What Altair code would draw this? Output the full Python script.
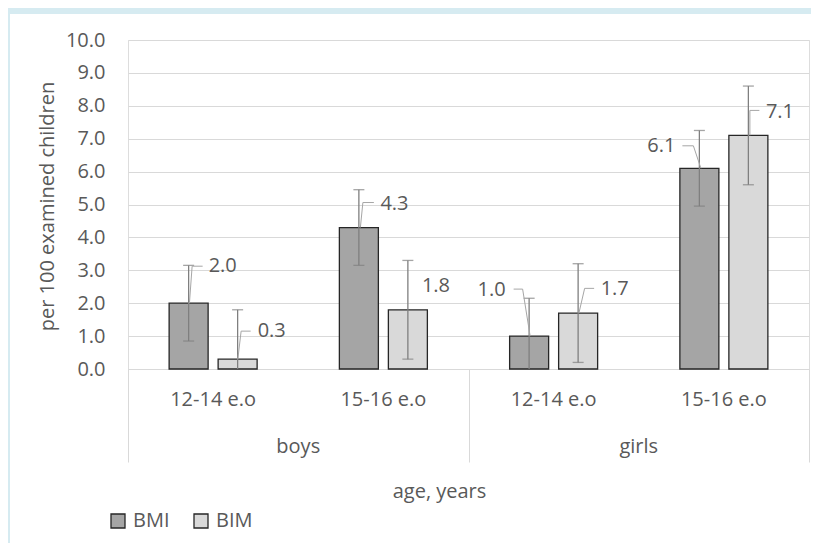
import altair as alt
import pandas as pd

# ---------------- data ----------------
genders = ["boys", "boys", "girls", "girls"]
ages = ["12-14 e.o", "15-16 e.o", "12-14 e.o", "15-16 e.o"]
series_names = ["BMI", "BIM"]
bmi_values = [2.0, 4.3, 1.0, 6.1]
bim_values = [0.3, 1.8, 1.7, 7.1]
bmi_errors = [1.15, 1.15, 1.15, 1.15]
bim_errors = [1.5, 1.5, 1.5, 1.5]
y_ticks = [0, 1, 2, 3, 4, 5, 6, 7, 8, 9, 10]
series_colors = ["#a5a5a5", "#d9d9d9"]

# ---------------- layout (pixels) ----------------
W, H = 681, 329
PX_X = W / len(ages)      # pixels per category slot
PX_Y = H / 10             # pixels per y unit
HALF_STEP = 24.5 / PX_X   # bar centre offset from slot centre
SIDE = {"BMI": -1, "BIM": 1}
TXT = "#595959"
GRID = "#d9d9d9"
FONT = "Open Sans"
FS = 20

# data label placement: text offset (px) from bar-top centre, leader path (px)
label_layout = {
    ("BMI", 0): dict(tx=20, ty=-37, align="left", path=[(0.8, 0), (3.5, -37), (14, -37)]),
    ("BMI", 1): dict(tx=21.5, ty=-24, align="left", path=[(1.5, 0), (4, -25), (15, -25)]),
    ("BMI", 2): dict(tx=-23.5, ty=-46, align="right", path=[(1, 0), (-6.5, -47), (-15.5, -47)]),
    ("BMI", 3): dict(tx=-24, ty=-22, align="right", path=[(1.5, 0), (-6, -22.5), (-17, -22.5)]),
    ("BIM", 0): dict(tx=20, ty=-28, align="left", path=[(0.2, 0), (3.5, -28), (13, -28)]),
    ("BIM", 1): dict(tx=14, ty=-24, align="left", path=[]),
    ("BIM", 2): dict(tx=22.5, ty=-24, align="left", path=[(0.8, 0), (6.5, -24.7), (16, -24.7)]),
    ("BIM", 3): dict(tx=17.5, ty=-23.4, align="left", path=[(1.5, 0), (1.5, -25), (11, -25)]),
}

rows, caps, labels, leaders = [], [], [], []
for s, vals, errs in (("BMI", bmi_values, bmi_errors), ("BIM", bim_values, bim_errors)):
    for i, (v, e) in enumerate(zip(vals, errs)):
        x = i + 0.5 + SIDE[s] * HALF_STEP
        rows.append(dict(series=s, gender=genders[i], age=ages[i], x=x, value=v,
                         lo=max(v - e, 0), hi=v + e))
        caps.append(dict(x=x, y=v + e))
        if v - e >= 0:
            caps.append(dict(x=x, y=v - e))
        lay = label_layout[(s, i)]
        labels.append(dict(x=x + lay["tx"] / PX_X, y=v - lay["ty"] / PX_Y,
                           text=f"{v:.1f}", align=lay["align"]))
        for k, (dx, dy) in enumerate(lay["path"]):
            leaders.append(dict(id=f"{s}{i}", order=k, x=x + dx / PX_X, y=v - dy / PX_Y))

bars_df = pd.DataFrame(rows)
caps_df = pd.DataFrame(caps)
labels_df = pd.DataFrame(labels)
leaders_df = pd.DataFrame(leaders)
age_df = pd.DataFrame(dict(x=[i + 0.5 for i in range(len(ages))], text=ages))
grp_names = list(dict.fromkeys(genders))
grp_df = pd.DataFrame(dict(
    x=[sum(i + 0.5 for i, g in enumerate(genders) if g == n) / genders.count(n) for n in grp_names],
    text=grp_names))

xs = alt.Scale(domain=[0, len(ages)], nice=False, zero=False, padding=0)
ys = alt.Scale(domain=[0, 10], nice=False, padding=0)

bars = alt.Chart(bars_df).mark_bar(size=39, stroke="#262626", strokeWidth=1.3).encode(
    x=alt.X("x:Q", scale=xs, axis=alt.Axis(
        values=[0, 2, 4], labels=False, ticks=True, tickSize=93, tickColor=GRID,
        tickWidth=1, domainColor=GRID, domainWidth=1, grid=False,
        title="age, years", titleX=311, titleY=122, titleBaseline="middle",
        titleAlign="center", titleFont=FONT, titleFontSize=FS, titleFontWeight="normal",
        titleColor=TXT)),
    y=alt.Y("value:Q", scale=ys, axis=alt.Axis(
        values=y_ticks, format=".1f", labelFont=FONT, labelFontSize=FS, labelColor=TXT,
        labelPadding=23, ticks=False, domain=False, grid=True, gridColor=GRID,
        gridWidth=1, title="per 100 examined children", titleX=-81, titleY=166,
        titleAngle=270, titleBaseline="middle", titleAlign="center", titleFont=FONT,
        titleFontSize=FS, titleFontWeight="normal", titleColor=TXT)),
    color=alt.Color("series:N", scale=alt.Scale(domain=series_names, range=series_colors),
                    legend=alt.Legend(
                        orient="none", legendX=-20, legendY=471, direction="horizontal",
                        title=None, symbolType="square", symbolSize=196,
                        symbolStrokeColor="#262626", symbolStrokeWidth=1.3,
                        labelFont=FONT, labelFontSize=FS, labelColor=TXT, labelOffset=5,
                        columnPadding=21, padding=0)),
)

err = alt.Chart(bars_df).mark_rule(color="#7f7f7f", strokeWidth=1.3).encode(
    x=alt.X("x:Q", scale=xs, axis=None),
    y=alt.Y("lo:Q", scale=ys, axis=None),
    y2="hi:Q",
)
cap = alt.Chart(caps_df).mark_tick(color="#7f7f7f", thickness=1.3, size=11,
                                   orient="horizontal").encode(
    x=alt.X("x:Q", scale=xs, axis=None),
    y=alt.Y("y:Q", scale=ys, axis=None),
)
lead = alt.Chart(leaders_df).mark_line(color="#a6a6a6", strokeWidth=1).encode(
    x=alt.X("x:Q", scale=xs, axis=None),
    y=alt.Y("y:Q", scale=ys, axis=None),
    detail="id:N",
    order="order:Q",
)
lab_left = alt.Chart(labels_df).transform_filter(alt.datum.align == "left").mark_text(
    align="left", baseline="middle", font=FONT, fontSize=FS, color=TXT).encode(
    x=alt.X("x:Q", scale=xs, axis=None),
    y=alt.Y("y:Q", scale=ys, axis=None),
    text="text:N",
)
lab_right = alt.Chart(labels_df).transform_filter(alt.datum.align == "right").mark_text(
    align="right", baseline="middle", font=FONT, fontSize=FS, color=TXT).encode(
    x=alt.X("x:Q", scale=xs, axis=None),
    y=alt.Y("y:Q", scale=ys, axis=None),
    text="text:N",
)
age_lab = alt.Chart(age_df).mark_text(
    align="center", baseline="middle", font=FONT, fontSize=FS, color=TXT).encode(
    x=alt.X("x:Q", scale=xs, axis=None),
    y=alt.value(360),
    text="text:N",
)
grp_lab = alt.Chart(grp_df).mark_text(
    align="center", baseline="middle", font=FONT, fontSize=FS, color=TXT).encode(
    x=alt.X("x:Q", scale=xs, axis=None),
    y=alt.value(407),
    text="text:N",
)

# light-blue frame strips (top and left) of the original picture
frame_df = pd.DataFrame(dict(x0=[-120, -120], x1=[683, -118], y0=[-32, -26], y1=[-26, 503]))
frame = alt.Chart(frame_df).mark_rect(color="#d6ebf1").encode(
    x=alt.X("x0:Q", scale=alt.Scale(domain=[0, W], range=[0, W], nice=False, zero=False), axis=None),
    x2="x1:Q",
    y=alt.Y("y0:Q", scale=alt.Scale(domain=[0, H], range=[0, H], nice=False, zero=False), axis=None),
    y2="y1:Q",
)

chart = alt.layer(
    frame, bars, err, cap, lead, lab_left, lab_right, age_lab, grp_lab
).resolve_scale(x="independent", y="independent").properties(
    width=W, height=H,
    autosize=alt.AutoSizeParams(type="none"),
    padding={"left": 120, "top": 32, "right": 2, "bottom": 174},
    background="white",
).configure_view(stroke=None).configure(font=FONT)

chart.save("out.html", embed_options={"renderer": "svg", "actions": False})
